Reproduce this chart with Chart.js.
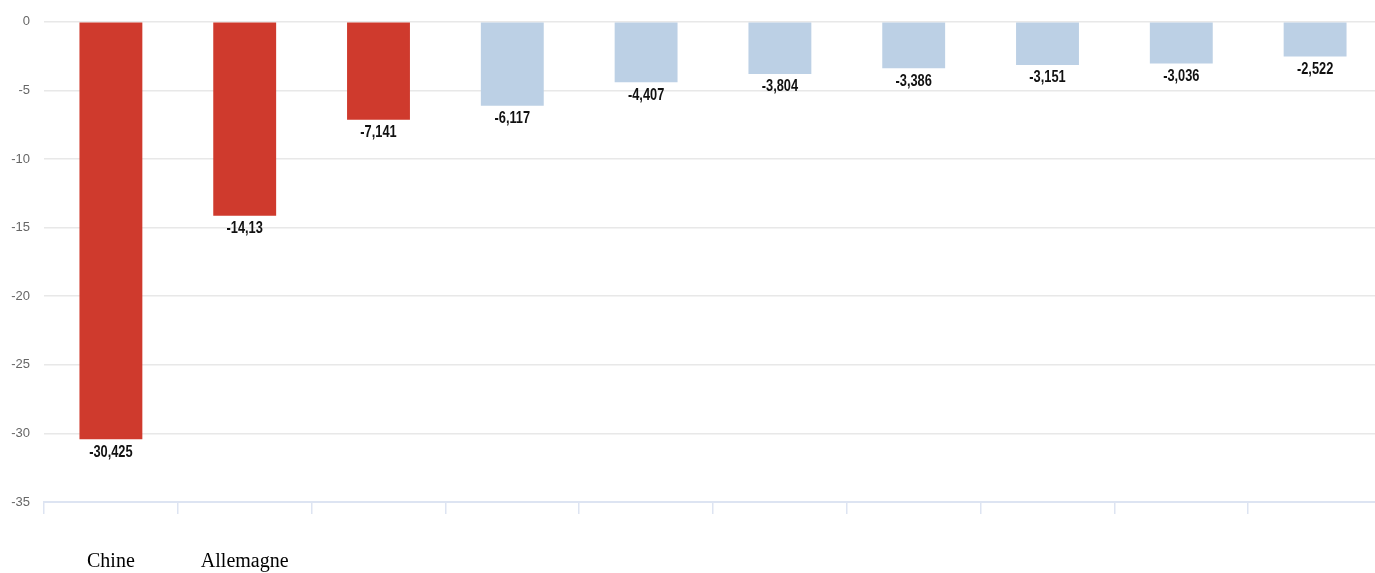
<!DOCTYPE html>
<html>
<head>
<meta charset="utf-8">
<script src="https://cdn.jsdelivr.net/npm/chart.js@4.4.1/dist/chart.umd.min.js"></script>
<style>
  html, body { margin: 0; padding: 0; background: #fff; overflow: hidden; }
  #wrap { width: 1382px; height: 573px; position: relative; }
</style>
</head>
<body>
<div id="wrap"><canvas id="myChart"></canvas></div>
<script>
// values
var categories = ['Chine', 'Allemagne', '', '', '', '', '', '', '', ''];
var values = [-30.425, -14.13, -7.141, -6.117, -4.407, -3.804, -3.386, -3.151, -3.036, -2.522];
var valueLabels = ['-30,425', '-14,13', '-7,141', '-6,117', '-4,407', '-3,804', '-3,386', '-3,151', '-3,036', '-2,522'];
var highlighted = [true, true, true, false, false, false, false, false, false, false];
var yTicks = [0, -5, -10, -15, -20, -25, -30, -35];

var red = '#cf3a2d';
var blue = '#bcd0e5';

var valueLabelPlugin = {
  id: 'valueLabels',
  afterDatasetsDraw: function(chart) {
    var ctx = chart.ctx;
    var meta = chart.getDatasetMeta(0);
    meta.data.forEach(function(bar, i) {
      ctx.save();
      ctx.translate(bar.x, bar.y + 5);
      ctx.scale(0.8, 1);   // squeeze to look like the condensed face
      ctx.font = 'bold 16px "Liberation Sans", Arial, sans-serif';
      ctx.fillStyle = '#111';
      ctx.textAlign = 'center';
      ctx.textBaseline = 'top';
      ctx.fillText(valueLabels[i], 0, 0);
      ctx.restore();
    });
  }
};

var ctx = document.getElementById('myChart').getContext('2d');

var graphData = {
  type: 'bar',
  data: {
    labels: categories,
    datasets: [{
      data: values,
      backgroundColor: highlighted.map(function(h) { return h ? red : blue; }),
      borderWidth: 0,
      barPercentage: 0.47,
      categoryPercentage: 1
    }]
  },
  options: {
    responsive: true,
    maintainAspectRatio: false,
    animation: false,
    layout: { padding: { top: 16, left: 0, right: 0, bottom: 0 } },
    plugins: {
      legend: { display: false },
      tooltip: { enabled: false }
    },
    scales: {
      x: {
        afterFit: function(axis) { axis.height = 71; },
        grid: {
          display: true,
          drawOnChartArea: false,
          tickLength: 12,
          color: '#dde4f2',
          lineWidth: 1.5,
          offset: true
        },
        border: { display: true, color: '#dde4f2', width: 2 },
        ticks: {
          padding: 36,
          color: '#000',
          maxRotation: 0,
          autoSkip: false,
          font: { family: '"Liberation Serif", "Times New Roman", serif', size: 20 }
        }
      },
      y: {
        min: -35,
        max: 0,
        afterBuildTicks: function(axis) {
          axis.ticks = yTicks.map(function(v) { return { value: v }; });
        },
        grid: { color: '#e8e8e8', lineWidth: 1.5, drawTicks: false },
        border: { display: false },
        afterFit: function(axis) { axis.width = 44; },
        ticks: {
          padding: 14,
          color: '#666',
          font: { family: '"Liberation Sans", Arial, sans-serif', size: 13 }
        }
      }
    }
  },
  plugins: [valueLabelPlugin]
};

var myChart = new Chart(ctx, graphData);
</script>
</body>
</html>
